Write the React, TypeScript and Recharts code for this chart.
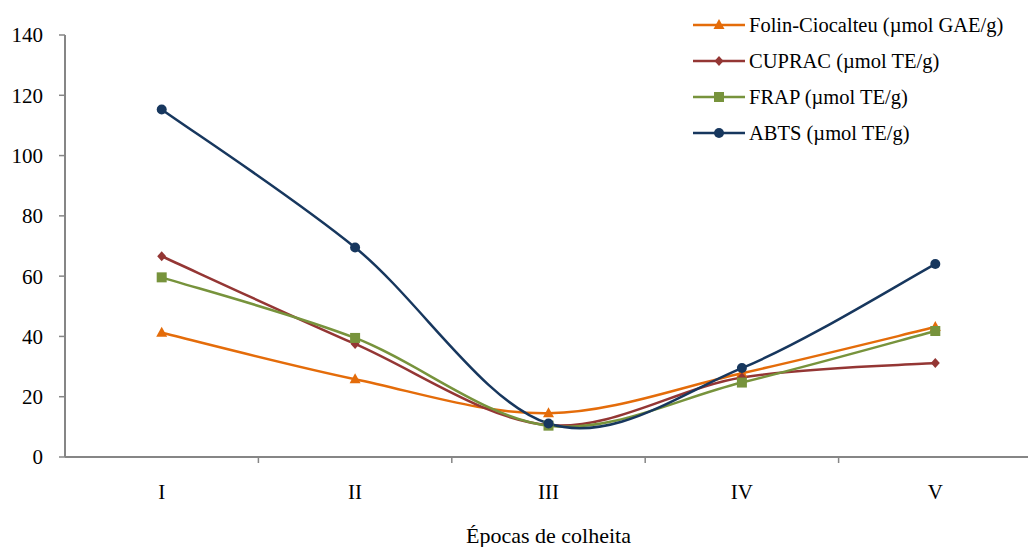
import React from 'react'
import { LineChart, Line, XAxis, YAxis, Legend } from 'recharts'

const categories = ['I', 'II', 'III', 'IV', 'V']
const folin = [41.2, 25.8, 14.5, 27.8, 43.1]
const cuprac = [66.6, 37.5, 10.6, 26.4, 31.2]
const frap = [59.6, 39.5, 10.4, 24.7, 41.8]
const abts = [115.3, 69.5, 11.1, 29.5, 64.0]
const yTicks = [0, 20, 40, 60, 80, 100, 120, 140]

const data = categories.map((c, i) => ({
  cat: c,
  folin: folin[i],
  cuprac: cuprac[i],
  frap: frap[i],
  abts: abts[i],
}))

const series = [
  { key: 'folin', name: 'Folin-Ciocalteu (µmol GAE/g)', color: '#E46C0A', shape: 'triangle' },
  { key: 'cuprac', name: 'CUPRAC (µmol TE/g)', color: '#943634', shape: 'diamond' },
  { key: 'frap', name: 'FRAP (µmol TE/g)', color: '#77933C', shape: 'square' },
  { key: 'abts', name: 'ABTS (µmol TE/g)', color: '#17375E', shape: 'circle' },
]

const FONT = 'Liberation Serif'
const W = 1032
const H = 547
const LEFT = 65
const AXIS_GREY = '#868686'
const halfBand = (W - LEFT) / categories.length / 2

// Excel-style smoothing: Catmull-Rom as cubic beziers (control points at 1/6)
const excelCurve = (context: any) => {
  let pts: number[][] = []
  return {
    areaStart() {},
    areaEnd() {},
    lineStart() {
      pts = []
    },
    point(x: number, y: number) {
      pts.push([+x, +y])
    },
    lineEnd() {
      const n = pts.length
      if (!n) return
      context.moveTo(pts[0][0], pts[0][1])
      for (let i = 0; i < n - 1; i++) {
        const p0 = pts[Math.max(i - 1, 0)]
        const p1 = pts[i]
        const p2 = pts[i + 1]
        const p3 = pts[Math.min(i + 2, n - 1)]
        context.bezierCurveTo(
          p1[0] + (p2[0] - p0[0]) / 6,
          p1[1] + (p2[1] - p0[1]) / 6,
          p2[0] - (p3[0] - p1[0]) / 6,
          p2[1] - (p3[1] - p1[1]) / 6,
          p2[0],
          p2[1]
        )
      }
    },
  }
}

function Marker({ shape, cx, cy, color }: { shape: string; cx: number; cy: number; color: string }) {
  if (shape === 'triangle')
    return <polygon points={`${cx},${cy - 6} ${cx + 5.5},${cy + 4} ${cx - 5.5},${cy + 4}`} fill={color} />
  if (shape === 'diamond')
    return <polygon points={`${cx},${cy - 5} ${cx + 4.5},${cy} ${cx},${cy + 5} ${cx - 4.5},${cy}`} fill={color} />
  if (shape === 'square') return <rect x={cx - 5} y={cy - 5} width={10} height={10} fill={color} />
  return <circle cx={cx} cy={cy} r={5} fill={color} />
}

const CategoryTick = (props: any) => {
  const { x, y, payload, index } = props
  return (
    <g>
      {index > 0 && <line x1={x - halfBand} x2={x - halfBand} y1={y} y2={y + 6} stroke={AXIS_GREY} strokeWidth={1.5} />}
      <text x={x} y={y + 42} textAnchor="middle" fontFamily={FONT} fontSize={21} fill="#000">
        {payload.value}
      </text>
    </g>
  )
}

const LegendContent = () => (
  <div style={{ fontFamily: FONT, fontSize: 20.5, color: '#000' }}>
    {series.map((s) => (
      <div key={s.key} style={{ display: 'flex', alignItems: 'center', height: 36 }}>
        <svg width={57} height={20} style={{ display: 'block' }}>
          <line x1={1} x2={53} y1={10} y2={10} stroke={s.color} strokeWidth={2.5} />
          <Marker shape={s.shape} cx={27} cy={10} color={s.color} />
        </svg>
        <span style={{ whiteSpace: 'nowrap' }}>{s.name}</span>
      </div>
    ))}
  </div>
)

export default function App() {
  return (
    <div style={{ position: 'absolute', left: 0, top: 0, width: 1028, height: H, overflow: 'hidden', background: '#fff' }}>
      <LineChart width={W} height={H} data={data} margin={{ top: 35, right: 0, left: 0, bottom: 0 }}>
        <XAxis
          dataKey="cat"
          scale="band"
          height={90}
          axisLine={{ stroke: AXIS_GREY, strokeWidth: 2 }}
          tickLine={false}
          tickSize={0}
          tickMargin={0}
          tick={<CategoryTick />}
          interval={0}
          label={{ value: 'Épocas de colheita', position: 'insideBottom', offset: 4, fontFamily: FONT, fontSize: 22, fill: '#000' }}
        />
        <YAxis
          width={LEFT}
          domain={[0, 140]}
          ticks={yTicks}
          interval={0}
          axisLine={{ stroke: AXIS_GREY, strokeWidth: 2 }}
          tickLine={{ stroke: AXIS_GREY, strokeWidth: 1.5 }}
          tickSize={6}
          tickMargin={16}
          tick={{ fontFamily: FONT, fontSize: 21, fill: '#000' }}
        />
        <Legend
          verticalAlign="middle"
          align="center"
          layout="vertical"
          content={<LegendContent />}
          wrapperStyle={{ left: 692, top: 7, width: 340 }}
        />
        {series.map((s) => (
          <Line
            key={s.key}
            dataKey={s.key}
            name={s.name}
            type={excelCurve as any}
            stroke={s.color}
            strokeWidth={2.5}
            dot={(p: any) => <Marker key={`${s.key}-${p.index}`} shape={s.shape} cx={p.cx} cy={p.cy} color={s.color} />}
            activeDot={false}
            isAnimationActive={false}
          />
        ))}
      </LineChart>
    </div>
  )
}
